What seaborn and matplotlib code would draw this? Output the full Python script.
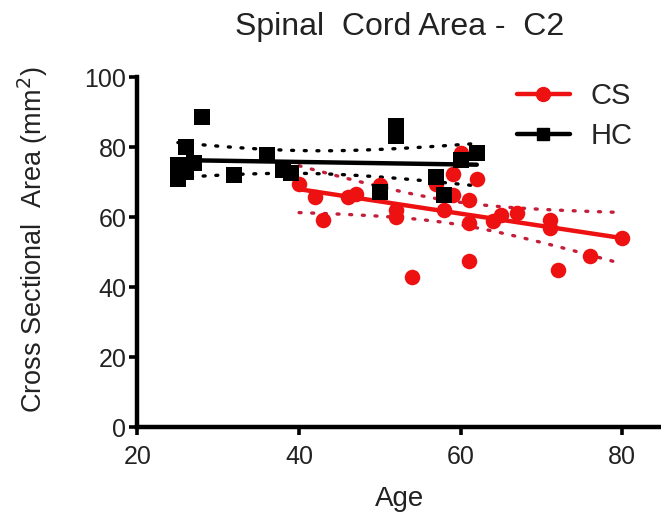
import numpy as np
import pandas as pd
import seaborn as sns
import matplotlib
matplotlib.use("Agg")
import matplotlib.pyplot as plt
from matplotlib.lines import Line2D

# ---- data ----
cs_age = [40, 42, 43, 46, 47, 50, 52, 52, 54, 57, 58, 59, 59, 60, 61, 61, 61, 62,
          64, 65, 67, 71, 71, 72, 76, 80]
cs_area = [69.6, 65.8, 59.3, 65.8, 66.6, 69.1, 62.0, 60.0, 43.0, 69.6, 62.0, 72.3,
           66.3, 78.2, 65.0, 58.4, 47.5, 71.0, 58.8, 60.7, 61.2, 59.1, 56.8, 45.0,
           49.0, 54.1]
hc_age = [25, 25, 26, 26, 27, 28, 32, 36, 38, 39, 50, 52, 52, 57, 58, 60, 62]
hc_area = [75.0, 71.0, 80.0, 73.0, 75.5, 88.7, 72.0, 77.7, 73.4, 72.5, 67.2, 86.1,
           83.1, 71.5, 66.3, 76.3, 78.2]

groups = ["CS", "HC"]
x_ticks = [20, 40, 60, 80]
y_ticks = [0, 20, 40, 60, 80, 100]

sns.set_theme(style="ticks")
plt.rcParams['font.family'] = ['Liberation Sans', 'DejaVu Sans']

fig = plt.figure(figsize=(6.61, 5.14), dpi=100)
ax = fig.add_axes([0.208, 0.169, 0.792, 0.681])

def t_quant(nu, z=1.959964):
    return (z + (z**3 + z) / (4 * nu) + (5 * z**5 + 16 * z**3 + 3 * z) / (96 * nu**2)
            + (3 * z**7 + 19 * z**5 + 17 * z**3 - 15 * z) / (384 * nu**3))

def ci_band(x, y, ax, dotcolor):
    x = np.asarray(x, float); y = np.asarray(y, float)
    n = len(x)
    b, a = np.polyfit(x, y, 1)
    resid = y - (a + b * x)
    s = np.sqrt(np.sum(resid**2) / (n - 2))
    xg = np.linspace(x.min(), x.max(), 100)
    se = s * np.sqrt(1 / n + (xg - x.mean())**2 / np.sum((x - x.mean())**2))
    t = t_quant(n - 2)
    yh = a + b * xg
    for sign in (1, -1):
        ax.plot(xg, yh + sign * t * se, color=dotcolor, lw=2.4,
                linestyle=(0, (0.6, 3.2)), dash_capstyle='round', zorder=2)

cs_df = pd.DataFrame({"Age": cs_age, "Area": cs_area})
hc_df = pd.DataFrame({"Age": hc_age, "Area": hc_area})

red = "#ee1111"
ci_band(cs_age, cs_area, ax, "#c41e3a")
ci_band(hc_age, hc_area, ax, "black")

sns.regplot(data=cs_df, x="Age", y="Area", ax=ax, ci=None, marker="o", color=red,
            scatter_kws={"s": 125, "linewidths": 0, "alpha": 1, "zorder": 3},
            line_kws={"lw": 3.2, "zorder": 4})
sns.regplot(data=hc_df, x="Age", y="Area", ax=ax, ci=None, marker="s", color="black",
            scatter_kws={"s": 120, "linewidths": 0, "alpha": 1, "zorder": 5},
            line_kws={"lw": 3.2, "zorder": 6})

ax.set_xlim(20, 84.8)
ax.set_ylim(0, 100)
ax.set_xticks(x_ticks)
ax.set_yticks(y_ticks)
ax.tick_params(axis="both", labelsize=18, length=6, width=2.6, direction="out",
               color="black", labelcolor="#222222")
ax.tick_params(axis="x", pad=7)
ax.tick_params(axis="y", pad=2)
for side in ("left", "bottom"):
    ax.spines[side].set_linewidth(3.2)
    ax.spines[side].set_color("black")
sns.despine(ax=ax)

ax.set_xlabel("Age", fontsize=20, color="#222222", labelpad=12)
ax.set_ylabel("Cross Sectional  Area (mm$^2$)", fontsize=19.5, color="#222222")
ax.yaxis.set_label_coords(-0.168, 0.535)
fig.text(0.604, 0.948, "Spinal  Cord Area -  C2", ha="center", va="center",
         fontsize=23, color="#222222")

handles = [Line2D([0], [0], color=red, lw=3.2, marker="o", markersize=10),
           Line2D([0], [0], color="black", lw=3.2, marker="s", markersize=9)]
ax.legend(handles, groups, loc="upper right", bbox_to_anchor=(0.995, 1.06),
          frameon=False, fontsize=21, handlelength=1.8, labelspacing=0.4,
          handletextpad=0.7)

fig.savefig("out.png", dpi=100)
